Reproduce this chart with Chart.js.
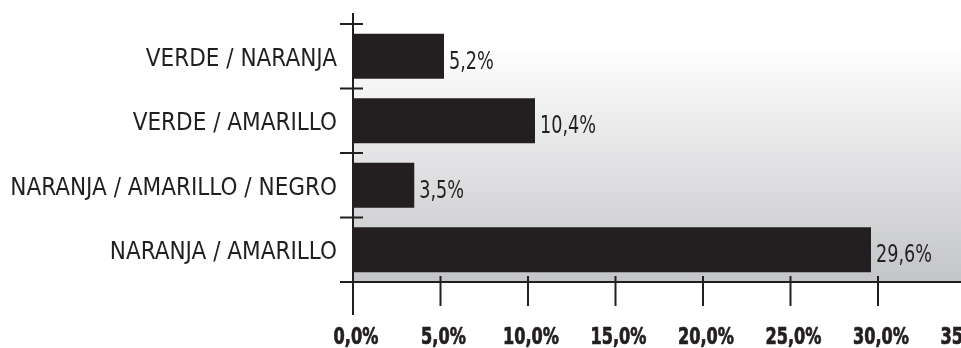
<!DOCTYPE html>
<html>
<head>
<meta charset="utf-8">
<script src="https://cdn.jsdelivr.net/npm/chart.js@4.4.1/dist/chart.umd.min.js"></script>
<style>
  html, body { margin: 0; padding: 0; background: #ffffff; overflow: hidden; }
  #wrap { width: 1000px; height: 348px; }
</style>
</head>
<body>
<div id="wrap"><canvas id="c" width="1000" height="348"></canvas></div>
<script>
const categories = ['VERDE / NARANJA', 'VERDE / AMARILLO', 'NARANJA / AMARILLO / NEGRO', 'NARANJA / AMARILLO'];
const values = [5.2, 10.4, 3.5, 29.6];
const xMin = 0;
const xMax = 35;
const xStep = 5;

const INK = '#231f20';
const FONT = "'DejaVu Sans Condensed', 'Liberation Sans Narrow', sans-serif";

function fmt(v) { return v.toFixed(1).replace('.', ',') + '%'; }

function squeezedText(ctx, text, x, y, sx, align, strokeW) {
  ctx.save();
  ctx.translate(x, y);
  ctx.scale(sx, 1);
  ctx.textAlign = align;
  ctx.textBaseline = 'alphabetic';
  ctx.fillText(text, 0, 0);
  if (strokeW) {
    ctx.lineWidth = strokeW;
    ctx.lineJoin = 'round';
    ctx.strokeText(text, 0, 0);
  }
  ctx.restore();
}

const decor = {
  id: 'decor',
  beforeDatasetsDraw(chart) {
    const { ctx, chartArea } = chart;
    ctx.save();
    const g = ctx.createLinearGradient(0, chartArea.top, 0, chartArea.bottom);
    g.addColorStop(0, '#ffffff');
    g.addColorStop(0.08, '#ffffff');
    g.addColorStop(1, '#c4c5c8');
    ctx.fillStyle = g;
    ctx.fillRect(chartArea.left, chartArea.top, chart.width - chartArea.left, chartArea.bottom - chartArea.top);
    ctx.restore();
  },
  afterDatasetsDraw(chart) {
    const { ctx, chartArea, scales } = chart;
    const xs = scales.x, ys = scales.y;
    ctx.save();
    ctx.strokeStyle = INK;
    ctx.lineWidth = 2;
    const x0 = xs.getPixelForValue(xMin);
    // vertical axis
    ctx.beginPath();
    ctx.moveTo(x0, chartArea.top - 11);
    ctx.lineTo(x0, chartArea.bottom + 33);
    ctx.stroke();
    // horizontal axis
    ctx.beginPath();
    ctx.moveTo(x0 - 13, chartArea.bottom);
    ctx.lineTo(chart.width, chartArea.bottom);
    ctx.stroke();
    // category boundary crosses
    for (let i = 0; i < categories.length; i++) {
      const y = ys.getPixelForValue(i - 0.5);
      ctx.beginPath();
      ctx.moveTo(x0 - 13, y);
      ctx.lineTo(x0 + 10, y);
      ctx.stroke();
    }
    // x ticks + labels
    ctx.fillStyle = INK;
    ctx.font = "bold 23px " + FONT;
    xs.ticks.forEach((t) => {
      const x = xs.getPixelForValue(t.value);
      if (t.value !== xMin) {
        ctx.lineWidth = 2;
        ctx.beginPath();
        ctx.moveTo(x, chartArea.bottom - 6);
        ctx.lineTo(x, chartArea.bottom + 24);
        ctx.stroke();
      }
      squeezedText(ctx, fmt(t.value), x + 3, chartArea.bottom + 61.5, 0.78, 'center', 0.7);
    });
    // value labels
    ctx.font = "24.5px " + FONT;
    const meta = chart.getDatasetMeta(0);
    meta.data.forEach((bar, i) => {
      squeezedText(ctx, fmt(values[i]), bar.x + 5, bar.y + 12.5, 0.8, 'left', 0);
    });
    ctx.restore();
  }
};

new Chart(document.getElementById('c'), {
  type: 'bar',
  data: {
    labels: categories,
    datasets: [{
      data: values,
      backgroundColor: INK,
      borderWidth: 0,
      categoryPercentage: 1,
      barPercentage: 0.7
    }]
  },
  options: {
    indexAxis: 'y',
    responsive: false,
    animation: false,
    events: [],
    layout: { padding: { top: 24, right: 34.5, left: 0, bottom: 0 } },
    plugins: { legend: { display: false }, tooltip: { enabled: false } },
    scales: {
      x: {
        min: xMin, max: xMax,
        grid: { display: false, drawTicks: false },
        border: { display: false },
        ticks: { stepSize: xStep, display: false },
        afterFit(scale) { scale.height = 66; scale.paddingLeft = 0; scale.paddingRight = 0; }
      },
      y: {
        grid: { display: false, drawTicks: false },
        border: { display: false },
        ticks: {
          padding: 16,
          labelOffset: 3.5,
          color: INK,
          font: { family: FONT, size: 24 }
        },
        afterFit(scale) { scale.width = 353; scale.paddingTop = 0; scale.paddingBottom = 0; }
      }
    }
  },
  plugins: [decor]
});
</script>
</body>
</html>
